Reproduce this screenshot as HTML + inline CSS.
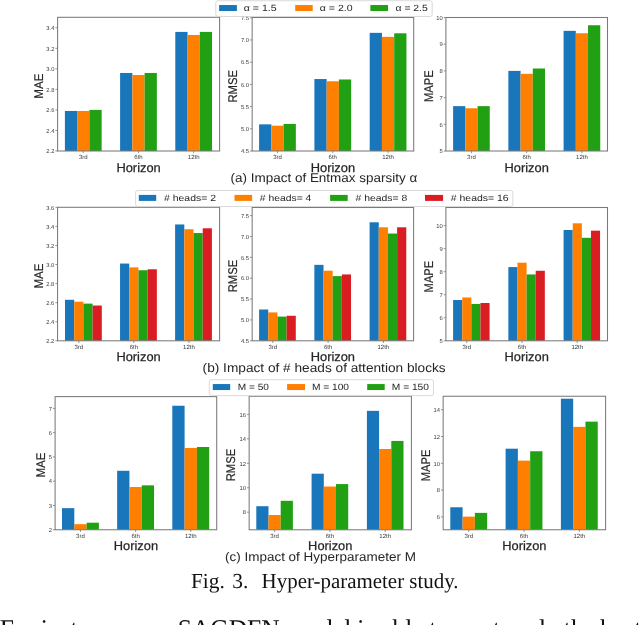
<!DOCTYPE html>
<html><head><meta charset="utf-8"><style>
html,body{margin:0;padding:0;background:#fff;width:640px;height:625px;overflow:hidden}
svg{display:block;filter:blur(0.4px)}
</style></head><body>
<svg width="640" height="625" viewBox="0 0 640 625" font-family='"Liberation Sans", sans-serif' text-rendering="geometricPrecision">
<rect width="640" height="625" fill="#fff"/>
<rect x="64.90" y="110.96" width="12.25" height="40.04" fill="#1a76bb"/>
<rect x="77.15" y="110.96" width="12.25" height="40.04" fill="#ff7f00"/>
<rect x="89.40" y="109.93" width="12.25" height="41.07" fill="#21a013"/>
<rect x="120.10" y="72.97" width="12.25" height="78.03" fill="#1a76bb"/>
<rect x="132.35" y="75.03" width="12.25" height="75.97" fill="#ff7f00"/>
<rect x="144.60" y="72.97" width="12.25" height="78.03" fill="#21a013"/>
<rect x="175.30" y="31.91" width="12.25" height="119.09" fill="#1a76bb"/>
<rect x="187.55" y="34.99" width="12.25" height="116.01" fill="#ff7f00"/>
<rect x="199.80" y="31.91" width="12.25" height="119.09" fill="#21a013"/>
<rect x="57.60" y="17.30" width="162.00" height="133.70" fill="none" stroke="#7a7a7a" stroke-width="1.05"/>
<line x1="55.40" y1="151.00" x2="57.60" y2="151.00" stroke="#7a7a7a" stroke-width="0.8"/>
<text x="54.40" y="153.20" font-size="5.8" text-anchor="end" fill="#3a3a3a">2.2</text>
<line x1="55.40" y1="130.47" x2="57.60" y2="130.47" stroke="#7a7a7a" stroke-width="0.8"/>
<text x="54.40" y="132.67" font-size="5.8" text-anchor="end" fill="#3a3a3a">2.4</text>
<line x1="55.40" y1="109.93" x2="57.60" y2="109.93" stroke="#7a7a7a" stroke-width="0.8"/>
<text x="54.40" y="112.13" font-size="5.8" text-anchor="end" fill="#3a3a3a">2.6</text>
<line x1="55.40" y1="89.40" x2="57.60" y2="89.40" stroke="#7a7a7a" stroke-width="0.8"/>
<text x="54.40" y="91.60" font-size="5.8" text-anchor="end" fill="#3a3a3a">2.8</text>
<line x1="55.40" y1="68.87" x2="57.60" y2="68.87" stroke="#7a7a7a" stroke-width="0.8"/>
<text x="54.40" y="71.07" font-size="5.8" text-anchor="end" fill="#3a3a3a">3.0</text>
<line x1="55.40" y1="48.33" x2="57.60" y2="48.33" stroke="#7a7a7a" stroke-width="0.8"/>
<text x="54.40" y="50.53" font-size="5.8" text-anchor="end" fill="#3a3a3a">3.2</text>
<line x1="55.40" y1="27.80" x2="57.60" y2="27.80" stroke="#7a7a7a" stroke-width="0.8"/>
<text x="54.40" y="30.00" font-size="5.8" text-anchor="end" fill="#3a3a3a">3.4</text>
<line x1="83.28" y1="151.00" x2="83.28" y2="153.20" stroke="#7a7a7a" stroke-width="0.8"/>
<text x="83.28" y="159.20" font-size="6" text-anchor="middle" fill="#3a3a3a">3rd</text>
<line x1="138.48" y1="151.00" x2="138.48" y2="153.20" stroke="#7a7a7a" stroke-width="0.8"/>
<text x="138.48" y="159.20" font-size="6" text-anchor="middle" fill="#3a3a3a">6th</text>
<line x1="193.68" y1="151.00" x2="193.68" y2="153.20" stroke="#7a7a7a" stroke-width="0.8"/>
<text x="193.68" y="159.20" font-size="6" text-anchor="middle" fill="#3a3a3a">12th</text>
<text x="138.60" y="171.70" font-size="12.6" text-anchor="middle" textLength="44.3" lengthAdjust="spacingAndGlyphs" fill="#262626" stroke="#262626" stroke-width="0.25">Horizon</text>
<text transform="translate(42.90 86.20) rotate(-90)" x="0" y="0" font-size="12.6" text-anchor="middle" textLength="25.2" lengthAdjust="spacingAndGlyphs" fill="#262626" stroke="#262626" stroke-width="0.18">MAE</text>
<rect x="259.10" y="124.35" width="12.25" height="26.65" fill="#1a76bb"/>
<rect x="271.35" y="125.68" width="12.25" height="25.32" fill="#ff7f00"/>
<rect x="283.60" y="123.91" width="12.25" height="27.09" fill="#21a013"/>
<rect x="314.40" y="79.05" width="12.25" height="71.95" fill="#1a76bb"/>
<rect x="326.65" y="81.27" width="12.25" height="69.73" fill="#ff7f00"/>
<rect x="338.90" y="79.49" width="12.25" height="71.51" fill="#21a013"/>
<rect x="369.70" y="32.85" width="12.25" height="118.15" fill="#1a76bb"/>
<rect x="381.95" y="36.85" width="12.25" height="114.15" fill="#ff7f00"/>
<rect x="394.20" y="33.30" width="12.25" height="117.70" fill="#21a013"/>
<rect x="252.15" y="17.50" width="161.55" height="133.50" fill="none" stroke="#7a7a7a" stroke-width="1.05"/>
<line x1="249.95" y1="151.00" x2="252.15" y2="151.00" stroke="#7a7a7a" stroke-width="0.8"/>
<text x="248.95" y="153.20" font-size="5.8" text-anchor="end" fill="#3a3a3a">4.5</text>
<line x1="249.95" y1="128.79" x2="252.15" y2="128.79" stroke="#7a7a7a" stroke-width="0.8"/>
<text x="248.95" y="130.99" font-size="5.8" text-anchor="end" fill="#3a3a3a">5.0</text>
<line x1="249.95" y1="106.58" x2="252.15" y2="106.58" stroke="#7a7a7a" stroke-width="0.8"/>
<text x="248.95" y="108.78" font-size="5.8" text-anchor="end" fill="#3a3a3a">5.5</text>
<line x1="249.95" y1="84.38" x2="252.15" y2="84.38" stroke="#7a7a7a" stroke-width="0.8"/>
<text x="248.95" y="86.58" font-size="5.8" text-anchor="end" fill="#3a3a3a">6.0</text>
<line x1="249.95" y1="62.17" x2="252.15" y2="62.17" stroke="#7a7a7a" stroke-width="0.8"/>
<text x="248.95" y="64.37" font-size="5.8" text-anchor="end" fill="#3a3a3a">6.5</text>
<line x1="249.95" y1="39.96" x2="252.15" y2="39.96" stroke="#7a7a7a" stroke-width="0.8"/>
<text x="248.95" y="42.16" font-size="5.8" text-anchor="end" fill="#3a3a3a">7.0</text>
<line x1="249.95" y1="17.75" x2="252.15" y2="17.75" stroke="#7a7a7a" stroke-width="0.8"/>
<text x="248.95" y="19.95" font-size="5.8" text-anchor="end" fill="#3a3a3a">7.5</text>
<line x1="277.48" y1="151.00" x2="277.48" y2="153.20" stroke="#7a7a7a" stroke-width="0.8"/>
<text x="277.48" y="159.20" font-size="6" text-anchor="middle" fill="#3a3a3a">3rd</text>
<line x1="332.78" y1="151.00" x2="332.78" y2="153.20" stroke="#7a7a7a" stroke-width="0.8"/>
<text x="332.78" y="159.20" font-size="6" text-anchor="middle" fill="#3a3a3a">6th</text>
<line x1="388.08" y1="151.00" x2="388.08" y2="153.20" stroke="#7a7a7a" stroke-width="0.8"/>
<text x="388.08" y="159.20" font-size="6" text-anchor="middle" fill="#3a3a3a">12th</text>
<text x="332.93" y="171.70" font-size="12.6" text-anchor="middle" textLength="44.3" lengthAdjust="spacingAndGlyphs" fill="#262626" stroke="#262626" stroke-width="0.25">Horizon</text>
<text transform="translate(236.60 86.30) rotate(-90)" x="0" y="0" font-size="12.6" text-anchor="middle" textLength="32.6" lengthAdjust="spacingAndGlyphs" fill="#262626" stroke="#262626" stroke-width="0.18">RMSE</text>
<rect x="453.10" y="106.14" width="12.22" height="44.86" fill="#1a76bb"/>
<rect x="465.32" y="108.28" width="12.22" height="42.72" fill="#ff7f00"/>
<rect x="477.54" y="106.14" width="12.22" height="44.86" fill="#21a013"/>
<rect x="508.35" y="70.90" width="12.22" height="80.10" fill="#1a76bb"/>
<rect x="520.57" y="73.84" width="12.22" height="77.16" fill="#ff7f00"/>
<rect x="532.79" y="68.50" width="12.22" height="82.50" fill="#21a013"/>
<rect x="563.60" y="30.85" width="12.22" height="120.15" fill="#1a76bb"/>
<rect x="575.82" y="33.25" width="12.22" height="117.75" fill="#ff7f00"/>
<rect x="588.04" y="25.24" width="12.22" height="125.76" fill="#21a013"/>
<rect x="445.90" y="17.50" width="161.60" height="133.50" fill="none" stroke="#7a7a7a" stroke-width="1.05"/>
<line x1="443.70" y1="151.00" x2="445.90" y2="151.00" stroke="#7a7a7a" stroke-width="0.8"/>
<text x="442.70" y="153.20" font-size="5.8" text-anchor="end" fill="#3a3a3a">5</text>
<line x1="443.70" y1="124.30" x2="445.90" y2="124.30" stroke="#7a7a7a" stroke-width="0.8"/>
<text x="442.70" y="126.50" font-size="5.8" text-anchor="end" fill="#3a3a3a">6</text>
<line x1="443.70" y1="97.60" x2="445.90" y2="97.60" stroke="#7a7a7a" stroke-width="0.8"/>
<text x="442.70" y="99.80" font-size="5.8" text-anchor="end" fill="#3a3a3a">7</text>
<line x1="443.70" y1="70.90" x2="445.90" y2="70.90" stroke="#7a7a7a" stroke-width="0.8"/>
<text x="442.70" y="73.10" font-size="5.8" text-anchor="end" fill="#3a3a3a">8</text>
<line x1="443.70" y1="44.20" x2="445.90" y2="44.20" stroke="#7a7a7a" stroke-width="0.8"/>
<text x="442.70" y="46.40" font-size="5.8" text-anchor="end" fill="#3a3a3a">9</text>
<line x1="443.70" y1="17.50" x2="445.90" y2="17.50" stroke="#7a7a7a" stroke-width="0.8"/>
<text x="442.70" y="19.70" font-size="5.8" text-anchor="end" fill="#3a3a3a">10</text>
<line x1="471.43" y1="151.00" x2="471.43" y2="153.20" stroke="#7a7a7a" stroke-width="0.8"/>
<text x="471.43" y="159.20" font-size="6" text-anchor="middle" fill="#3a3a3a">3rd</text>
<line x1="526.68" y1="151.00" x2="526.68" y2="153.20" stroke="#7a7a7a" stroke-width="0.8"/>
<text x="526.68" y="159.20" font-size="6" text-anchor="middle" fill="#3a3a3a">6th</text>
<line x1="581.93" y1="151.00" x2="581.93" y2="153.20" stroke="#7a7a7a" stroke-width="0.8"/>
<text x="581.93" y="159.20" font-size="6" text-anchor="middle" fill="#3a3a3a">12th</text>
<text x="526.70" y="171.70" font-size="12.6" text-anchor="middle" textLength="44.3" lengthAdjust="spacingAndGlyphs" fill="#262626" stroke="#262626" stroke-width="0.25">Horizon</text>
<text transform="translate(432.90 86.20) rotate(-90)" x="0" y="0" font-size="12.6" text-anchor="middle" textLength="31.6" lengthAdjust="spacingAndGlyphs" fill="#262626" stroke="#262626" stroke-width="0.18">MAPE</text>
<rect x="215.80" y="0.75" width="216.40" height="15.75" rx="2" ry="2" fill="#fff" fill-opacity="0.85" stroke="#d0d0d0" stroke-width="0.8"/>
<rect x="219.10" y="5.03" width="17.80" height="6.00" fill="#1a76bb"/>
<text x="243.80" y="11.23" font-size="9" textLength="32.8" lengthAdjust="spacingAndGlyphs" fill="#262626">α = 1.5</text>
<rect x="295.20" y="5.03" width="17.50" height="6.00" fill="#ff7f00"/>
<text x="319.80" y="11.23" font-size="9" textLength="32.8" lengthAdjust="spacingAndGlyphs" fill="#262626">α = 2.0</text>
<rect x="370.40" y="5.03" width="17.60" height="6.00" fill="#21a013"/>
<text x="395.50" y="11.23" font-size="9" textLength="32.3" lengthAdjust="spacingAndGlyphs" fill="#262626">α = 2.5</text>
<rect x="65.00" y="299.80" width="9.20" height="41.00" fill="#1a76bb"/>
<rect x="74.20" y="301.70" width="9.20" height="39.10" fill="#ff7f00"/>
<rect x="83.40" y="303.61" width="9.20" height="37.19" fill="#21a013"/>
<rect x="92.60" y="305.52" width="9.20" height="35.28" fill="#da1d23"/>
<rect x="120.05" y="263.56" width="9.20" height="77.24" fill="#1a76bb"/>
<rect x="129.25" y="267.38" width="9.20" height="73.43" fill="#ff7f00"/>
<rect x="138.45" y="270.24" width="9.20" height="70.56" fill="#21a013"/>
<rect x="147.65" y="269.28" width="9.20" height="71.52" fill="#da1d23"/>
<rect x="175.10" y="224.46" width="9.20" height="116.34" fill="#1a76bb"/>
<rect x="184.30" y="229.23" width="9.20" height="111.57" fill="#ff7f00"/>
<rect x="193.50" y="233.05" width="9.20" height="107.75" fill="#21a013"/>
<rect x="202.70" y="228.28" width="9.20" height="112.52" fill="#da1d23"/>
<rect x="57.55" y="207.30" width="162.05" height="133.50" fill="none" stroke="#7a7a7a" stroke-width="1.05"/>
<line x1="55.35" y1="340.80" x2="57.55" y2="340.80" stroke="#7a7a7a" stroke-width="0.8"/>
<text x="54.35" y="343.00" font-size="5.8" text-anchor="end" fill="#3a3a3a">2.2</text>
<line x1="55.35" y1="321.73" x2="57.55" y2="321.73" stroke="#7a7a7a" stroke-width="0.8"/>
<text x="54.35" y="323.93" font-size="5.8" text-anchor="end" fill="#3a3a3a">2.4</text>
<line x1="55.35" y1="302.66" x2="57.55" y2="302.66" stroke="#7a7a7a" stroke-width="0.8"/>
<text x="54.35" y="304.86" font-size="5.8" text-anchor="end" fill="#3a3a3a">2.6</text>
<line x1="55.35" y1="283.59" x2="57.55" y2="283.59" stroke="#7a7a7a" stroke-width="0.8"/>
<text x="54.35" y="285.79" font-size="5.8" text-anchor="end" fill="#3a3a3a">2.8</text>
<line x1="55.35" y1="264.51" x2="57.55" y2="264.51" stroke="#7a7a7a" stroke-width="0.8"/>
<text x="54.35" y="266.71" font-size="5.8" text-anchor="end" fill="#3a3a3a">3.0</text>
<line x1="55.35" y1="245.44" x2="57.55" y2="245.44" stroke="#7a7a7a" stroke-width="0.8"/>
<text x="54.35" y="247.64" font-size="5.8" text-anchor="end" fill="#3a3a3a">3.2</text>
<line x1="55.35" y1="226.37" x2="57.55" y2="226.37" stroke="#7a7a7a" stroke-width="0.8"/>
<text x="54.35" y="228.57" font-size="5.8" text-anchor="end" fill="#3a3a3a">3.4</text>
<line x1="55.35" y1="207.30" x2="57.55" y2="207.30" stroke="#7a7a7a" stroke-width="0.8"/>
<text x="54.35" y="209.50" font-size="5.8" text-anchor="end" fill="#3a3a3a">3.6</text>
<line x1="78.80" y1="340.80" x2="78.80" y2="343.00" stroke="#7a7a7a" stroke-width="0.8"/>
<text x="78.80" y="349.00" font-size="6" text-anchor="middle" fill="#3a3a3a">3rd</text>
<line x1="133.85" y1="340.80" x2="133.85" y2="343.00" stroke="#7a7a7a" stroke-width="0.8"/>
<text x="133.85" y="349.00" font-size="6" text-anchor="middle" fill="#3a3a3a">6th</text>
<line x1="188.90" y1="340.80" x2="188.90" y2="343.00" stroke="#7a7a7a" stroke-width="0.8"/>
<text x="188.90" y="349.00" font-size="6" text-anchor="middle" fill="#3a3a3a">12th</text>
<text x="138.57" y="361.25" font-size="12.6" text-anchor="middle" textLength="44.3" lengthAdjust="spacingAndGlyphs" fill="#262626" stroke="#262626" stroke-width="0.25">Horizon</text>
<text transform="translate(43.20 276.00) rotate(-90)" x="0" y="0" font-size="12.6" text-anchor="middle" textLength="25.2" lengthAdjust="spacingAndGlyphs" fill="#262626" stroke="#262626" stroke-width="0.18">MAE</text>
<rect x="259.10" y="309.50" width="9.17" height="31.30" fill="#1a76bb"/>
<rect x="268.27" y="312.42" width="9.17" height="28.38" fill="#ff7f00"/>
<rect x="277.44" y="316.59" width="9.17" height="24.21" fill="#21a013"/>
<rect x="286.61" y="315.76" width="9.17" height="25.04" fill="#da1d23"/>
<rect x="314.35" y="264.85" width="9.17" height="75.95" fill="#1a76bb"/>
<rect x="323.52" y="270.69" width="9.17" height="70.11" fill="#ff7f00"/>
<rect x="332.69" y="276.11" width="9.17" height="64.69" fill="#21a013"/>
<rect x="341.86" y="274.44" width="9.17" height="66.36" fill="#da1d23"/>
<rect x="369.60" y="222.28" width="9.17" height="118.52" fill="#1a76bb"/>
<rect x="378.77" y="227.29" width="9.17" height="113.51" fill="#ff7f00"/>
<rect x="387.94" y="233.55" width="9.17" height="107.25" fill="#21a013"/>
<rect x="397.11" y="227.29" width="9.17" height="113.51" fill="#da1d23"/>
<rect x="252.15" y="207.50" width="161.45" height="133.30" fill="none" stroke="#7a7a7a" stroke-width="1.05"/>
<line x1="249.95" y1="340.80" x2="252.15" y2="340.80" stroke="#7a7a7a" stroke-width="0.8"/>
<text x="248.95" y="343.00" font-size="5.8" text-anchor="end" fill="#3a3a3a">4.5</text>
<line x1="249.95" y1="319.93" x2="252.15" y2="319.93" stroke="#7a7a7a" stroke-width="0.8"/>
<text x="248.95" y="322.13" font-size="5.8" text-anchor="end" fill="#3a3a3a">5.0</text>
<line x1="249.95" y1="299.07" x2="252.15" y2="299.07" stroke="#7a7a7a" stroke-width="0.8"/>
<text x="248.95" y="301.27" font-size="5.8" text-anchor="end" fill="#3a3a3a">5.5</text>
<line x1="249.95" y1="278.20" x2="252.15" y2="278.20" stroke="#7a7a7a" stroke-width="0.8"/>
<text x="248.95" y="280.40" font-size="5.8" text-anchor="end" fill="#3a3a3a">6.0</text>
<line x1="249.95" y1="257.33" x2="252.15" y2="257.33" stroke="#7a7a7a" stroke-width="0.8"/>
<text x="248.95" y="259.53" font-size="5.8" text-anchor="end" fill="#3a3a3a">6.5</text>
<line x1="249.95" y1="236.47" x2="252.15" y2="236.47" stroke="#7a7a7a" stroke-width="0.8"/>
<text x="248.95" y="238.67" font-size="5.8" text-anchor="end" fill="#3a3a3a">7.0</text>
<line x1="249.95" y1="215.60" x2="252.15" y2="215.60" stroke="#7a7a7a" stroke-width="0.8"/>
<text x="248.95" y="217.80" font-size="5.8" text-anchor="end" fill="#3a3a3a">7.5</text>
<line x1="272.86" y1="340.80" x2="272.86" y2="343.00" stroke="#7a7a7a" stroke-width="0.8"/>
<text x="272.86" y="349.00" font-size="6" text-anchor="middle" fill="#3a3a3a">3rd</text>
<line x1="328.11" y1="340.80" x2="328.11" y2="343.00" stroke="#7a7a7a" stroke-width="0.8"/>
<text x="328.11" y="349.00" font-size="6" text-anchor="middle" fill="#3a3a3a">6th</text>
<line x1="383.36" y1="340.80" x2="383.36" y2="343.00" stroke="#7a7a7a" stroke-width="0.8"/>
<text x="383.36" y="349.00" font-size="6" text-anchor="middle" fill="#3a3a3a">12th</text>
<text x="332.88" y="361.25" font-size="12.6" text-anchor="middle" textLength="44.3" lengthAdjust="spacingAndGlyphs" fill="#262626" stroke="#262626" stroke-width="0.25">Horizon</text>
<text transform="translate(236.60 276.00) rotate(-90)" x="0" y="0" font-size="12.6" text-anchor="middle" textLength="32.6" lengthAdjust="spacingAndGlyphs" fill="#262626" stroke="#262626" stroke-width="0.18">RMSE</text>
<rect x="453.10" y="300.02" width="9.12" height="40.78" fill="#1a76bb"/>
<rect x="462.22" y="297.48" width="9.12" height="43.32" fill="#ff7f00"/>
<rect x="471.34" y="303.94" width="9.12" height="36.86" fill="#21a013"/>
<rect x="480.46" y="303.01" width="9.12" height="37.79" fill="#da1d23"/>
<rect x="508.35" y="267.07" width="9.12" height="73.73" fill="#1a76bb"/>
<rect x="517.47" y="262.69" width="9.12" height="78.11" fill="#ff7f00"/>
<rect x="526.59" y="274.44" width="9.12" height="66.36" fill="#21a013"/>
<rect x="535.71" y="270.76" width="9.12" height="70.04" fill="#da1d23"/>
<rect x="563.60" y="229.98" width="9.12" height="110.82" fill="#1a76bb"/>
<rect x="572.72" y="223.30" width="9.12" height="117.50" fill="#ff7f00"/>
<rect x="581.84" y="237.81" width="9.12" height="102.99" fill="#21a013"/>
<rect x="590.96" y="230.67" width="9.12" height="110.13" fill="#da1d23"/>
<rect x="445.90" y="207.50" width="161.60" height="133.30" fill="none" stroke="#7a7a7a" stroke-width="1.05"/>
<line x1="443.70" y1="340.80" x2="445.90" y2="340.80" stroke="#7a7a7a" stroke-width="0.8"/>
<text x="442.70" y="343.00" font-size="5.8" text-anchor="end" fill="#3a3a3a">5</text>
<line x1="443.70" y1="317.76" x2="445.90" y2="317.76" stroke="#7a7a7a" stroke-width="0.8"/>
<text x="442.70" y="319.96" font-size="5.8" text-anchor="end" fill="#3a3a3a">6</text>
<line x1="443.70" y1="294.72" x2="445.90" y2="294.72" stroke="#7a7a7a" stroke-width="0.8"/>
<text x="442.70" y="296.92" font-size="5.8" text-anchor="end" fill="#3a3a3a">7</text>
<line x1="443.70" y1="271.68" x2="445.90" y2="271.68" stroke="#7a7a7a" stroke-width="0.8"/>
<text x="442.70" y="273.88" font-size="5.8" text-anchor="end" fill="#3a3a3a">8</text>
<line x1="443.70" y1="248.64" x2="445.90" y2="248.64" stroke="#7a7a7a" stroke-width="0.8"/>
<text x="442.70" y="250.84" font-size="5.8" text-anchor="end" fill="#3a3a3a">9</text>
<line x1="443.70" y1="225.60" x2="445.90" y2="225.60" stroke="#7a7a7a" stroke-width="0.8"/>
<text x="442.70" y="227.80" font-size="5.8" text-anchor="end" fill="#3a3a3a">10</text>
<line x1="466.78" y1="340.80" x2="466.78" y2="343.00" stroke="#7a7a7a" stroke-width="0.8"/>
<text x="466.78" y="349.00" font-size="6" text-anchor="middle" fill="#3a3a3a">3rd</text>
<line x1="522.03" y1="340.80" x2="522.03" y2="343.00" stroke="#7a7a7a" stroke-width="0.8"/>
<text x="522.03" y="349.00" font-size="6" text-anchor="middle" fill="#3a3a3a">6th</text>
<line x1="577.28" y1="340.80" x2="577.28" y2="343.00" stroke="#7a7a7a" stroke-width="0.8"/>
<text x="577.28" y="349.00" font-size="6" text-anchor="middle" fill="#3a3a3a">12th</text>
<text x="526.70" y="361.25" font-size="12.6" text-anchor="middle" textLength="44.3" lengthAdjust="spacingAndGlyphs" fill="#262626" stroke="#262626" stroke-width="0.25">Horizon</text>
<text transform="translate(432.90 276.60) rotate(-90)" x="0" y="0" font-size="12.6" text-anchor="middle" textLength="31.6" lengthAdjust="spacingAndGlyphs" fill="#262626" stroke="#262626" stroke-width="0.18">MAPE</text>
<rect x="135.60" y="190.50" width="377.20" height="16.00" rx="2" ry="2" fill="#fff" fill-opacity="0.85" stroke="#d0d0d0" stroke-width="0.8"/>
<rect x="138.80" y="194.90" width="17.40" height="6.00" fill="#1a76bb"/>
<text x="164.00" y="201.10" font-size="9" textLength="52.0" lengthAdjust="spacingAndGlyphs" fill="#262626"># heads= 2</text>
<rect x="234.50" y="194.90" width="17.60" height="6.00" fill="#ff7f00"/>
<text x="259.80" y="201.10" font-size="9" textLength="51.6" lengthAdjust="spacingAndGlyphs" fill="#262626"># heads= 4</text>
<rect x="330.10" y="194.90" width="17.60" height="6.00" fill="#21a013"/>
<text x="355.50" y="201.10" font-size="9" textLength="51.8" lengthAdjust="spacingAndGlyphs" fill="#262626"># heads= 8</text>
<rect x="425.00" y="194.90" width="18.10" height="6.00" fill="#da1d23"/>
<text x="450.80" y="201.10" font-size="9" textLength="57.9" lengthAdjust="spacingAndGlyphs" fill="#262626"># heads= 16</text>
<rect x="62.00" y="508.15" width="12.30" height="21.60" fill="#1a76bb"/>
<rect x="74.30" y="524.17" width="12.30" height="5.58" fill="#ff7f00"/>
<rect x="86.60" y="522.71" width="12.30" height="7.04" fill="#21a013"/>
<rect x="117.15" y="470.77" width="12.30" height="58.98" fill="#1a76bb"/>
<rect x="129.45" y="487.03" width="12.30" height="42.72" fill="#ff7f00"/>
<rect x="141.75" y="485.34" width="12.30" height="44.41" fill="#21a013"/>
<rect x="172.30" y="405.73" width="12.30" height="124.02" fill="#1a76bb"/>
<rect x="184.60" y="447.96" width="12.30" height="81.79" fill="#ff7f00"/>
<rect x="196.90" y="446.99" width="12.30" height="82.76" fill="#21a013"/>
<rect x="55.10" y="396.60" width="161.60" height="133.15" fill="none" stroke="#7a7a7a" stroke-width="1.05"/>
<line x1="52.90" y1="529.75" x2="55.10" y2="529.75" stroke="#7a7a7a" stroke-width="0.8"/>
<text x="51.90" y="531.95" font-size="5.8" text-anchor="end" fill="#3a3a3a">2</text>
<line x1="52.90" y1="505.48" x2="55.10" y2="505.48" stroke="#7a7a7a" stroke-width="0.8"/>
<text x="51.90" y="507.68" font-size="5.8" text-anchor="end" fill="#3a3a3a">3</text>
<line x1="52.90" y1="481.21" x2="55.10" y2="481.21" stroke="#7a7a7a" stroke-width="0.8"/>
<text x="51.90" y="483.41" font-size="5.8" text-anchor="end" fill="#3a3a3a">4</text>
<line x1="52.90" y1="456.94" x2="55.10" y2="456.94" stroke="#7a7a7a" stroke-width="0.8"/>
<text x="51.90" y="459.14" font-size="5.8" text-anchor="end" fill="#3a3a3a">5</text>
<line x1="52.90" y1="432.67" x2="55.10" y2="432.67" stroke="#7a7a7a" stroke-width="0.8"/>
<text x="51.90" y="434.87" font-size="5.8" text-anchor="end" fill="#3a3a3a">6</text>
<line x1="52.90" y1="408.40" x2="55.10" y2="408.40" stroke="#7a7a7a" stroke-width="0.8"/>
<text x="51.90" y="410.60" font-size="5.8" text-anchor="end" fill="#3a3a3a">7</text>
<line x1="80.45" y1="529.75" x2="80.45" y2="531.95" stroke="#7a7a7a" stroke-width="0.8"/>
<text x="80.45" y="537.95" font-size="6" text-anchor="middle" fill="#3a3a3a">3rd</text>
<line x1="135.60" y1="529.75" x2="135.60" y2="531.95" stroke="#7a7a7a" stroke-width="0.8"/>
<text x="135.60" y="537.95" font-size="6" text-anchor="middle" fill="#3a3a3a">6th</text>
<line x1="190.75" y1="529.75" x2="190.75" y2="531.95" stroke="#7a7a7a" stroke-width="0.8"/>
<text x="190.75" y="537.95" font-size="6" text-anchor="middle" fill="#3a3a3a">12th</text>
<text x="135.90" y="550.20" font-size="12.6" text-anchor="middle" textLength="44.3" lengthAdjust="spacingAndGlyphs" fill="#262626" stroke="#262626" stroke-width="0.25">Horizon</text>
<text transform="translate(45.10 465.00) rotate(-90)" x="0" y="0" font-size="12.6" text-anchor="middle" textLength="25.2" lengthAdjust="spacingAndGlyphs" fill="#262626" stroke="#262626" stroke-width="0.18">MAE</text>
<rect x="256.30" y="506.21" width="12.20" height="23.59" fill="#1a76bb"/>
<rect x="268.50" y="515.01" width="12.20" height="14.79" fill="#ff7f00"/>
<rect x="280.70" y="500.83" width="12.20" height="28.97" fill="#21a013"/>
<rect x="311.60" y="473.69" width="12.20" height="56.11" fill="#1a76bb"/>
<rect x="323.80" y="486.53" width="12.20" height="43.27" fill="#ff7f00"/>
<rect x="336.00" y="484.08" width="12.20" height="45.72" fill="#21a013"/>
<rect x="366.90" y="410.85" width="12.20" height="118.95" fill="#1a76bb"/>
<rect x="379.10" y="449.00" width="12.20" height="80.80" fill="#ff7f00"/>
<rect x="391.30" y="440.93" width="12.20" height="88.87" fill="#21a013"/>
<rect x="249.15" y="396.25" width="162.25" height="133.55" fill="none" stroke="#7a7a7a" stroke-width="1.05"/>
<line x1="246.95" y1="512.20" x2="249.15" y2="512.20" stroke="#7a7a7a" stroke-width="0.8"/>
<text x="245.95" y="514.40" font-size="5.8" text-anchor="end" fill="#3a3a3a">8</text>
<line x1="246.95" y1="487.75" x2="249.15" y2="487.75" stroke="#7a7a7a" stroke-width="0.8"/>
<text x="245.95" y="489.95" font-size="5.8" text-anchor="end" fill="#3a3a3a">10</text>
<line x1="246.95" y1="463.30" x2="249.15" y2="463.30" stroke="#7a7a7a" stroke-width="0.8"/>
<text x="245.95" y="465.50" font-size="5.8" text-anchor="end" fill="#3a3a3a">12</text>
<line x1="246.95" y1="438.85" x2="249.15" y2="438.85" stroke="#7a7a7a" stroke-width="0.8"/>
<text x="245.95" y="441.05" font-size="5.8" text-anchor="end" fill="#3a3a3a">14</text>
<line x1="246.95" y1="414.40" x2="249.15" y2="414.40" stroke="#7a7a7a" stroke-width="0.8"/>
<text x="245.95" y="416.60" font-size="5.8" text-anchor="end" fill="#3a3a3a">16</text>
<line x1="274.60" y1="529.80" x2="274.60" y2="532.00" stroke="#7a7a7a" stroke-width="0.8"/>
<text x="274.60" y="538.00" font-size="6" text-anchor="middle" fill="#3a3a3a">3rd</text>
<line x1="329.90" y1="529.80" x2="329.90" y2="532.00" stroke="#7a7a7a" stroke-width="0.8"/>
<text x="329.90" y="538.00" font-size="6" text-anchor="middle" fill="#3a3a3a">6th</text>
<line x1="385.20" y1="529.80" x2="385.20" y2="532.00" stroke="#7a7a7a" stroke-width="0.8"/>
<text x="385.20" y="538.00" font-size="6" text-anchor="middle" fill="#3a3a3a">12th</text>
<text x="330.27" y="550.20" font-size="12.6" text-anchor="middle" textLength="44.3" lengthAdjust="spacingAndGlyphs" fill="#262626" stroke="#262626" stroke-width="0.25">Horizon</text>
<text transform="translate(235.30 465.00) rotate(-90)" x="0" y="0" font-size="12.6" text-anchor="middle" textLength="32.6" lengthAdjust="spacingAndGlyphs" fill="#262626" stroke="#262626" stroke-width="0.18">RMSE</text>
<rect x="450.30" y="507.25" width="12.28" height="22.50" fill="#1a76bb"/>
<rect x="462.58" y="516.63" width="12.28" height="13.12" fill="#ff7f00"/>
<rect x="474.86" y="512.88" width="12.28" height="16.87" fill="#21a013"/>
<rect x="505.60" y="448.69" width="12.28" height="81.06" fill="#1a76bb"/>
<rect x="517.88" y="460.62" width="12.28" height="69.13" fill="#ff7f00"/>
<rect x="530.16" y="451.24" width="12.28" height="78.51" fill="#21a013"/>
<rect x="560.90" y="398.71" width="12.28" height="131.04" fill="#1a76bb"/>
<rect x="573.18" y="426.85" width="12.28" height="102.90" fill="#ff7f00"/>
<rect x="585.46" y="421.63" width="12.28" height="108.12" fill="#21a013"/>
<rect x="443.15" y="396.25" width="162.45" height="133.50" fill="none" stroke="#7a7a7a" stroke-width="1.05"/>
<line x1="440.95" y1="516.90" x2="443.15" y2="516.90" stroke="#7a7a7a" stroke-width="0.8"/>
<text x="439.95" y="519.10" font-size="5.8" text-anchor="end" fill="#3a3a3a">6</text>
<line x1="440.95" y1="490.10" x2="443.15" y2="490.10" stroke="#7a7a7a" stroke-width="0.8"/>
<text x="439.95" y="492.30" font-size="5.8" text-anchor="end" fill="#3a3a3a">8</text>
<line x1="440.95" y1="463.30" x2="443.15" y2="463.30" stroke="#7a7a7a" stroke-width="0.8"/>
<text x="439.95" y="465.50" font-size="5.8" text-anchor="end" fill="#3a3a3a">10</text>
<line x1="440.95" y1="436.50" x2="443.15" y2="436.50" stroke="#7a7a7a" stroke-width="0.8"/>
<text x="439.95" y="438.70" font-size="5.8" text-anchor="end" fill="#3a3a3a">12</text>
<line x1="440.95" y1="409.70" x2="443.15" y2="409.70" stroke="#7a7a7a" stroke-width="0.8"/>
<text x="439.95" y="411.90" font-size="5.8" text-anchor="end" fill="#3a3a3a">14</text>
<line x1="468.72" y1="529.75" x2="468.72" y2="531.95" stroke="#7a7a7a" stroke-width="0.8"/>
<text x="468.72" y="537.95" font-size="6" text-anchor="middle" fill="#3a3a3a">3rd</text>
<line x1="524.02" y1="529.75" x2="524.02" y2="531.95" stroke="#7a7a7a" stroke-width="0.8"/>
<text x="524.02" y="537.95" font-size="6" text-anchor="middle" fill="#3a3a3a">6th</text>
<line x1="579.32" y1="529.75" x2="579.32" y2="531.95" stroke="#7a7a7a" stroke-width="0.8"/>
<text x="579.32" y="537.95" font-size="6" text-anchor="middle" fill="#3a3a3a">12th</text>
<text x="524.38" y="550.20" font-size="12.6" text-anchor="middle" textLength="44.3" lengthAdjust="spacingAndGlyphs" fill="#262626" stroke="#262626" stroke-width="0.25">Horizon</text>
<text transform="translate(429.80 465.40) rotate(-90)" x="0" y="0" font-size="12.6" text-anchor="middle" textLength="31.6" lengthAdjust="spacingAndGlyphs" fill="#262626" stroke="#262626" stroke-width="0.18">MAPE</text>
<rect x="209.30" y="379.70" width="224.20" height="15.90" rx="2" ry="2" fill="#fff" fill-opacity="0.85" stroke="#d0d0d0" stroke-width="0.8"/>
<rect x="212.80" y="384.05" width="17.40" height="6.00" fill="#1a76bb"/>
<text x="237.80" y="390.25" font-size="9" textLength="31.1" lengthAdjust="spacingAndGlyphs" fill="#262626">M = 50</text>
<rect x="287.10" y="384.05" width="17.90" height="6.00" fill="#ff7f00"/>
<text x="311.90" y="390.25" font-size="9" textLength="37.1" lengthAdjust="spacingAndGlyphs" fill="#262626">M = 100</text>
<rect x="367.20" y="384.05" width="17.50" height="6.00" fill="#21a013"/>
<text x="391.80" y="390.25" font-size="9" textLength="37.2" lengthAdjust="spacingAndGlyphs" fill="#262626">M = 150</text>
<text x="230.6" y="181.6" font-size="12.6" textLength="186.6" lengthAdjust="spacingAndGlyphs" fill="#262626">(a) Impact of Entmax sparsity α</text>
<text x="202.6" y="372.0" font-size="12.6" textLength="243.1" lengthAdjust="spacingAndGlyphs" fill="#262626">(b) Impact of # heads of attention blocks</text>
<text x="225.0" y="560.9" font-size="12.6" textLength="190.9" lengthAdjust="spacingAndGlyphs" fill="#262626">(c) Impact of Hyperparameter M</text>
<text x="190.9" y="587.9" font-family='"Liberation Serif", serif' font-size="21.4" fill="#111">Fig.</text>
<text x="232.3" y="587.9" font-family='"Liberation Serif", serif' font-size="21.4" fill="#111">3.</text>
<text x="261.6" y="587.9" font-family='"Liberation Serif", serif' font-size="21.4" textLength="197" lengthAdjust="spacingAndGlyphs" fill="#111">Hyper-parameter study.</text>
<text x="-0.3" y="637.3" font-family='"Liberation Serif", serif' font-size="25.5" fill="#111">For</text>
<text x="40.8" y="637.3" font-family='"Liberation Serif", serif' font-size="25.5" fill="#111">instance,</text>
<text x="134.0" y="637.3" font-family='"Liberation Serif", serif' font-size="25.5" fill="#111">our</text>
<text x="177.7" y="637.3" font-family='"Liberation Serif", serif' font-size="25.5" fill="#111">SAGDFN</text>
<text x="287.5" y="637.3" font-family='"Liberation Serif", serif' font-size="25.5" fill="#111">model</text>
<text x="357.3" y="637.3" font-family='"Liberation Serif", serif' font-size="25.5" fill="#111">is</text>
<text x="381.2" y="637.3" font-family='"Liberation Serif", serif' font-size="25.5" fill="#111">able</text>
<text x="429.2" y="637.3" font-family='"Liberation Serif", serif' font-size="25.5" fill="#111">to</text>
<text x="457.5" y="637.3" font-family='"Liberation Serif", serif' font-size="25.5" fill="#111">captured</text>
<text x="563.8" y="637.3" font-family='"Liberation Serif", serif' font-size="25.5" fill="#111">the</text>
<text x="600.2" y="637.3" font-family='"Liberation Serif", serif' font-size="25.5" fill="#111">best</text>
</svg></body></html>
